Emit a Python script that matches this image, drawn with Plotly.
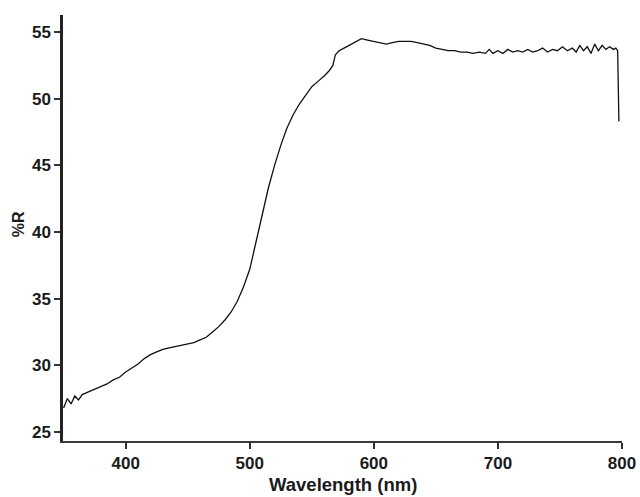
import plotly.graph_objects as go

wavelength = [350, 353, 356, 359, 362, 365, 370, 375, 380, 385, 390, 395, 400, 405, 410,
              415, 420, 425, 430, 435, 440, 445, 450, 455, 460, 465, 470, 475, 480, 485,
              490, 495, 500, 505, 510, 515, 520, 525, 530, 535, 540, 545, 550, 555, 560,
              564, 567, 569, 572, 576, 580, 585, 590, 595, 600, 605, 610, 615, 620, 625,
              630, 635, 640, 645, 650, 655, 660, 665, 670, 675, 680, 685, 690, 693, 696,
              700, 704, 708, 712, 716, 720, 724, 728, 732, 736, 740, 744, 748, 752, 756,
              760, 763, 766, 769, 772, 775, 778, 781, 784, 787, 790, 793, 795, 796.5, 797, 797.5]
reflectance = [26.8, 27.5, 27.1, 27.7, 27.4, 27.8, 28.0, 28.2, 28.4, 28.6, 28.9, 29.1, 29.5, 29.8, 30.1,
               30.5, 30.8, 31.0, 31.2, 31.3, 31.4, 31.5, 31.6, 31.7, 31.9, 32.1, 32.5, 32.9, 33.4, 34.0,
               34.8, 35.9, 37.2, 39.2, 41.3, 43.3, 45.0, 46.5, 47.8, 48.8, 49.6, 50.3, 50.9, 51.3, 51.7,
               52.1, 52.5, 53.3, 53.6, 53.8, 54.0, 54.2, 54.5, 54.4, 54.3, 54.2, 54.1, 54.2, 54.3, 54.3,
               54.3, 54.2, 54.1, 54.0, 53.8, 53.7, 53.6, 53.6, 53.5, 53.5, 53.4, 53.5, 53.4, 53.7, 53.4,
               53.6, 53.4, 53.7, 53.5, 53.6, 53.5, 53.7, 53.5, 53.6, 53.8, 53.5, 53.7, 53.6, 53.9, 53.6,
               53.8, 53.5, 54.0, 53.6, 53.9, 53.4, 54.1, 53.6, 54.0, 53.7, 53.9, 53.7, 53.8, 53.6, 50.5, 48.3]

x_ticks = [400, 500, 600, 700, 800]
y_ticks = [25, 30, 35, 40, 45, 50, 55]

fig = go.Figure()
fig.add_trace(go.Scatter(x=wavelength, y=reflectance, mode="lines",
                         line=dict(color="#111111", width=1.3), showlegend=False))

font_family = "Liberation Sans, Arial, sans-serif"
fig.update_layout(
    width=640, height=497,
    margin=dict(l=63, r=18, t=15, b=56),
    paper_bgcolor="white", plot_bgcolor="white",
    font=dict(family=font_family, size=17, color="#1a1a1a"),
    xaxis=dict(range=[349.5, 800], tickvals=x_ticks, ticktext=[f"<b>{v}</b>" for v in x_ticks],
               showgrid=False, zeroline=False, showline=True, linecolor="#3a3a3a", linewidth=2,
               ticks="outside", ticklen=6, tickwidth=1.5, tickcolor="#333333", automargin=False),
    yaxis=dict(range=[24.32, 56.28], tickvals=y_ticks, ticktext=[f"<b>{v}</b>" for v in y_ticks],
               showgrid=False, zeroline=False, showline=True, linecolor="#222222", linewidth=2.5,
               ticks="outside", ticklen=6, tickwidth=1.5, tickcolor="#333333", automargin=False),
    annotations=[
        dict(text="<b>Wavelength (nm)</b>", xref="paper", yref="paper", x=0.5, y=-0.102,
             xanchor="center", yanchor="middle", showarrow=False, font=dict(size=18.5)),
        dict(text="<b>%R</b>", xref="paper", yref="paper", x=-0.0805, y=0.509,
             xanchor="center", yanchor="middle", showarrow=False, textangle=-90, font=dict(size=16)),
    ],
)

fig.write_html("out.html", config={"displayModeBar": False},
               post_script="document.body.style.margin='0';document.body.style.overflow='hidden';")
